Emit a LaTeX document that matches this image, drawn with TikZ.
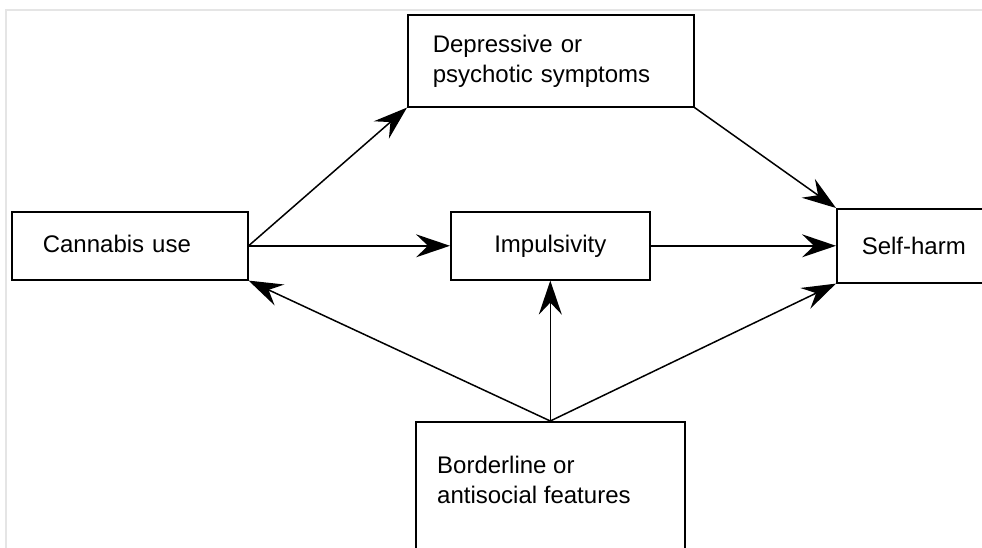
\documentclass[tikz,border=0pt]{standalone}
\usepackage{fontspec}
\setmainfont{Liberation Sans}
\usetikzlibrary{arrows.meta}
\begin{document}
\begin{tikzpicture}[x=1pt,y=-1pt,
  box/.style={draw=black, line width=1.6pt, rectangle, anchor=north west, inner ysep=0pt,
    font=\fontsize{24}{30}\selectfont},
  lbl/.style={font=\fontsize{24}{30}\selectfont, inner sep=0pt, anchor=west, align=left},
  arr/.style={line width=1.5pt, -{Stealth[length=34pt, width=23pt, inset=12pt]}},
  frame/.style={draw=black!10, line width=2pt}]
\useasboundingbox (0,0) rectangle (982,548);
\draw[frame] (6,1200) -- (6,10) -- (1200,10);
\node[box, minimum width=286pt, minimum height=92pt, inner xsep=25pt, text width=236pt, align=left] (dep) at (407,14) {Depressive or\\psychotic symptoms};
\node[box, minimum width=236pt, minimum height=68pt, inner xsep=31pt, text width=174pt, align=left] (can) at (11,211) {\raisebox{3pt}{Cannabis use}};
\node[box, minimum width=199pt, minimum height=68pt, align=center] (imp) at (450,211) {Impulsivity};
\node[box, minimum width=220pt, minimum height=74pt, inner xsep=25pt, text width=170pt, align=left] (self) at (836,208) {\raisebox{-4pt}{Self-harm}};
\node[box, minimum width=269pt, minimum height=160pt] (bord) at (415,421) {};
\node[lbl] (bordtext) at (437,480) {Borderline or\\antisocial features};
\draw[arr] (can.east) -- (dep.south west);
\draw[arr] (can.east) -- (imp.west);
\draw[arr] (dep.south east) -- (self.north west);
\draw[arr] (imp.east) -- (self.west);
\draw[arr] (bord.north) -- (imp.south);
\draw[arr] (bord.north) -- (can.south east);
\draw[arr] (bord.north) -- (self.south west);
\end{tikzpicture}
\end{document}
